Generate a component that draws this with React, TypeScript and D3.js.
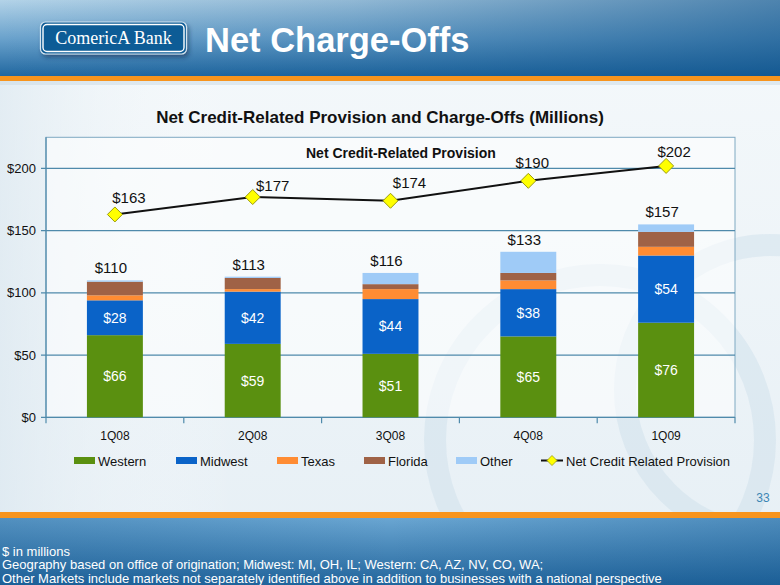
import React from "react";
import * as d3 from "d3";

const quarters = ["1Q08", "2Q08", "3Q08", "4Q08", "1Q09"];
const western = [66, 59, 51, 65, 76];
const midwest = [28, 42, 44, 38, 54];
const texas = [4, 2, 8, 7, 7];
const florida = [11, 9, 4, 6, 12];
const other = [1, 1, 9, 17, 6];
const totals = [110, 113, 116, 133, 157];
const provision = [163, 177, 174, 190, 202];
const yTicks = [0, 50, 100, 150, 200];
const seriesNames = ["Western", "Midwest", "Texas", "Florida", "Other"];
const lineName = "Net Credit Related Provision";
const footnotes = [
  "$ in millions",
  "Geography based on office of origination; Midwest: MI, OH, IL;  Western: CA, AZ, NV, CO, WA;",
  "Other Markets include markets not separately identified above in addition to businesses with a national perspective",
];

const colors: Record<string, string> = {
  Western: "#5a9010",
  Midwest: "#0a63c8",
  Texas: "#ff8c33",
  Florida: "#9f6246",
  Other: "#9fcbf7",
};

// layout
const W = 780;
const H = 585;
const plot = { left: 46, right: 735, top: 137.3, bottom: 417.3 };
const labelNudge = [
  [14, -17],
  [20, -12],
  [19, -18],
  [4, -18],
  [8, -14],
];
const legendX = [74, 176, 277, 364, 456, 541];
const FONT = "'Liberation Sans', Arial, sans-serif";

export default function App() {
  const table = quarters.map((q, i) => ({
    q,
    Western: western[i],
    Midwest: midwest[i],
    Texas: texas[i],
    Florida: florida[i],
    Other: other[i],
  }));
  const stack = d3.stack<any>().keys(seriesNames)(table);

  const x = d3
    .scaleBand<string>()
    .domain(quarters)
    .range([plot.left, plot.right])
    .paddingInner(0.594)
    .paddingOuter(0.297);
  const y = d3.scaleLinear().domain([0, 225]).range([plot.bottom, plot.top]);
  const cx = (q: string) => (x(q) as number) + x.bandwidth() / 2;

  const line = d3
    .line<number>()
    .x((_, i) => cx(quarters[i]))
    .y((d) => y(d));

  const diamond = (r: number) => `M0,${-r}L${r},0L0,${r}L${-r},0Z`;
  const boundaries = d3.range(quarters.length + 1).map((i) => plot.left + i * x.step());
  const stackTop = (i: number) => stack[stack.length - 1][i][1];

  return (
    <svg
      width={W}
      height={H}
      style={{ position: "absolute", left: 0, top: 0, display: "block" }}
      fontFamily={FONT}
    >
      <defs>
        <linearGradient id="bg" x1="0" y1="0" x2="0" y2="1">
          <stop offset="0" stopColor="#f5f9fb" />
          <stop offset="1" stopColor="#e6eff5" />
        </linearGradient>
        <linearGradient id="bgL" x1="0" y1="0" x2="1" y2="0">
          <stop offset="0" stopColor="#dce8f0" stopOpacity="0.7" />
          <stop offset="0.3" stopColor="#ffffff" stopOpacity="0" />
        </linearGradient>
        <linearGradient id="hdrV" x1="0" y1="0" x2="0" y2="1">
          <stop offset="0" stopColor="#b3d3e8" />
          <stop offset="0.5" stopColor="#6aa2cc" />
          <stop offset="1" stopColor="#1f669f" />
        </linearGradient>
        <linearGradient id="hdrH" x1="0" y1="0" x2="1" y2="0">
          <stop offset="0" stopColor="#0b4f88" stopOpacity="0" />
          <stop offset="0.45" stopColor="#0b4f88" stopOpacity="0.2" />
          <stop offset="1" stopColor="#0b4f88" stopOpacity="0.6" />
        </linearGradient>
        <linearGradient id="ftr" x1="0" y1="0" x2="0" y2="1">
          <stop offset="0" stopColor="#6aa6d2" />
          <stop offset="1" stopColor="#22659c" />
        </linearGradient>
        <linearGradient id="ftrH" x1="0" y1="0" x2="1" y2="0">
          <stop offset="0" stopColor="#0b4f88" stopOpacity="0.25" />
          <stop offset="0.5" stopColor="#0b4f88" stopOpacity="0" />
          <stop offset="1" stopColor="#0b4f88" stopOpacity="0.3" />
        </linearGradient>
        <filter id="shadow" x="-10%" y="-20%" width="130%" height="160%">
          <feDropShadow dx="2" dy="3" stdDeviation="2" floodColor="#0a2c4a" floodOpacity="0.5" />
        </filter>
      </defs>

      {/* page background */}
      <rect x={0} y={0} width={W} height={H} fill="url(#bg)" />
      <rect x={0} y={0} width={W} height={H} fill="url(#bgL)" />

      {/* watermark */}
      <g fill="none" stroke="#c7dbe8" strokeOpacity={0.4}>
        <circle cx={600} cy={440} r={165} strokeWidth={22} />
        <circle cx={770} cy={390} r={145} strokeWidth={22} />
      </g>

      {/* header */}
      <rect x={0} y={0} width={W} height={77} fill="url(#hdrV)" />
      <rect x={0} y={0} width={W} height={77} fill="url(#hdrH)" />
      <rect x={0} y={76} width={W} height={5} fill="#f7941d" />
      <rect x={0} y={81} width={W} height={4} fill="#c9d9e4" opacity={0.5} />

      {/* logo */}
      <g filter="url(#shadow)">
        <rect x={40.5} y={22} width={146} height={32} rx={5} fill="#0f5c96" stroke="#d4e4f0" strokeWidth={1.2} />
      </g>
      <rect x={43} y={24.5} width={141} height={27} rx={4} fill="none" stroke="#ffffff" strokeWidth={1.4} />
      <text x={113.5} y={44} textAnchor="middle" fill="#ffffff" fontFamily="'Liberation Serif', 'DejaVu Serif', serif" fontSize={18}>
        ComericA Bank
      </text>

      <text x={205} y={52} fill="#ffffff" fontSize={34.5} fontWeight="bold">
        Net Charge-Offs
      </text>

      {/* chart title */}
      <text x={380} y={123} textAnchor="middle" fill="#111" fontSize={17} fontWeight="bold">
        Net Credit-Related Provision and Charge-Offs (Millions)
      </text>

      {/* plot area */}
      <rect
        x={plot.left}
        y={plot.top}
        width={plot.right - plot.left}
        height={plot.bottom - plot.top}
        fill="#ffffff"
        fillOpacity={0.55}
        stroke="#7fa9c2"
        strokeWidth={1}
      />
      {yTicks.map((t) => (
        <g key={t}>
          <line x1={plot.left - 5} x2={plot.right} y1={y(t)} y2={y(t)} stroke="#4f8aab" strokeWidth={1.2} />
          <text x={36} y={y(t) + 4.5} textAnchor="end" fontSize={13} fill="#111">
            ${t}
          </text>
        </g>
      ))}
      <line x1={plot.left} x2={plot.left} y1={plot.top} y2={plot.bottom} stroke="#4f8aab" strokeWidth={1.2} />
      {boundaries.map((b, i) => (
        <line key={i} x1={b} x2={b} y1={plot.bottom} y2={plot.bottom + 6} stroke="#4f8aab" strokeWidth={1.2} />
      ))}
      {quarters.map((q) => (
        <text key={q} x={cx(q)} y={439.5} textAnchor="middle" fontSize={12} fill="#111">
          {q}
        </text>
      ))}

      {/* bars */}
      {stack.map((s) => (
        <g key={s.key} fill={colors[s.key]}>
          {s.map((d, i) => (
            <rect
              key={i}
              x={x(quarters[i])}
              y={y(d[1])}
              width={x.bandwidth()}
              height={Math.max(0, y(d[0]) - y(d[1]))}
            />
          ))}
        </g>
      ))}
      {/* segment labels */}
      {stack.slice(0, 2).map((s) =>
        s.map((d, i) => (
          <text
            key={s.key + i}
            x={cx(quarters[i])}
            y={(y(d[0]) + y(d[1])) / 2 + 5}
            textAnchor="middle"
            fontSize={14}
            fill="#ffffff"
          >
            ${d[1] - d[0]}
          </text>
        ))
      )}
      {/* totals */}
      {totals.map((t, i) => (
        <text key={i} x={cx(quarters[i]) - 4} y={y(stackTop(i)) - 7} textAnchor="middle" fontSize={15} fill="#111">
          ${t}
        </text>
      ))}

      {/* line */}
      <text x={306} y={157.5} fontSize={14} fontWeight="bold" fill="#111">
        Net Credit-Related Provision
      </text>
      <path d={line(provision) as string} fill="none" stroke="#111" strokeWidth={2} />
      {provision.map((v, i) => (
        <g key={i}>
          <path
            d={diamond(7.5)}
            transform={`translate(${cx(quarters[i])},${y(v)})`}
            fill="#ffff00"
            stroke="#9a9a10"
            strokeWidth={1}
          />
          <text
            x={cx(quarters[i]) + labelNudge[i][0]}
            y={y(v) + labelNudge[i][1] + 5.5}
            textAnchor="middle"
            fontSize={15}
            fill="#111"
          >
            ${v}
          </text>
        </g>
      ))}

      {/* legend */}
      {seriesNames.map((n, i) => (
        <g key={n}>
          <rect x={legendX[i]} y={457} width={21} height={7} fill={colors[n]} />
          <text x={legendX[i] + 24} y={465.5} fontSize={13} fill="#111">
            {n}
          </text>
        </g>
      ))}
      <g>
        <line x1={legendX[5]} x2={legendX[5] + 22} y1={460.5} y2={460.5} stroke="#111" strokeWidth={2} />
        <path d={diamond(5)} transform={`translate(${legendX[5] + 11},460.5)`} fill="#ffff00" stroke="#9a9a10" strokeWidth={0.8} />
        <text x={legendX[5] + 25} y={465.5} fontSize={13} fill="#111">
          {lineName}
        </text>
      </g>

      {/* page number */}
      <text x={763} y={501.5} textAnchor="middle" fontSize={12} fill="#3b86b4">
        33
      </text>

      {/* footer */}
      <rect x={0} y={512} width={W} height={6} fill="#f7941d" />
      <rect x={0} y={518} width={W} height={H - 518} fill="url(#ftr)" />
      <rect x={0} y={518} width={W} height={H - 518} fill="url(#ftrH)" />
      {footnotes.map((f, i) => (
        <text key={i} x={2} y={555.5 + i * 13.5} fontSize={13} fill="#ffffff">
          {f}
        </text>
      ))}
    </svg>
  );
}
